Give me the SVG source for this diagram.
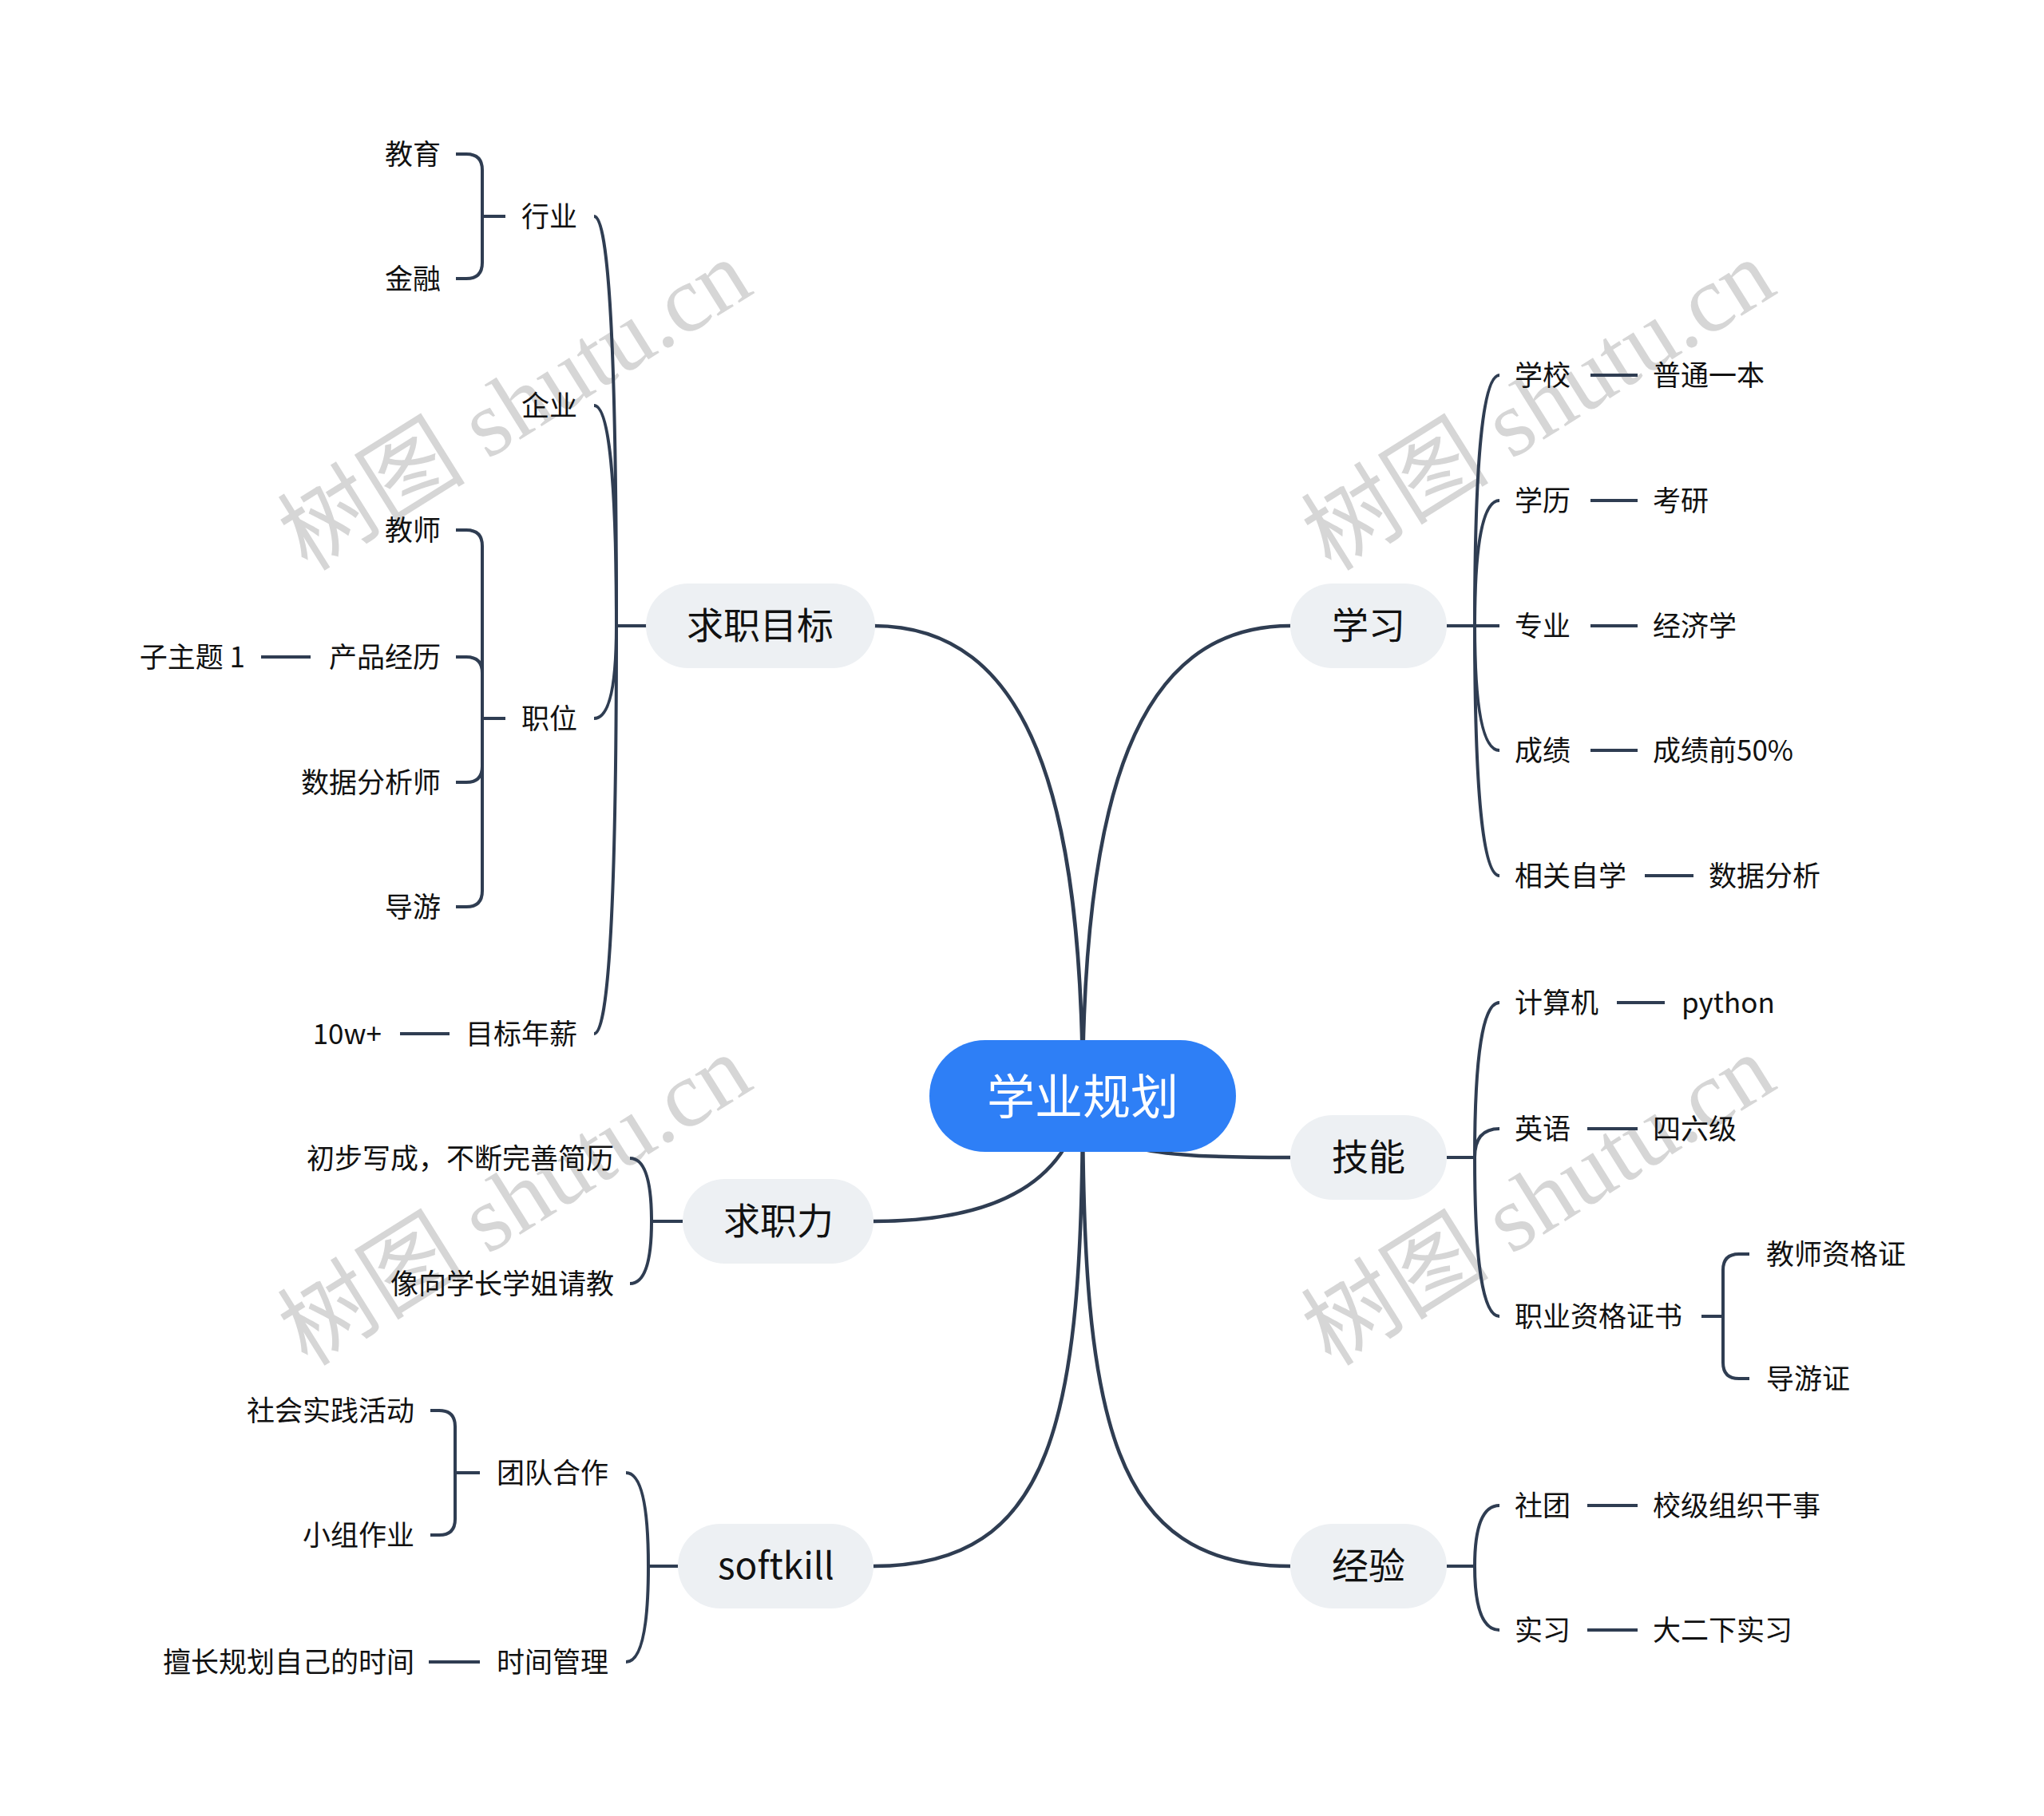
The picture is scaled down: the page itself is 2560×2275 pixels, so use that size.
<svg xmlns="http://www.w3.org/2000/svg" width="2560" height="2275" viewBox="0 0 2560 2275">
<style>
text{font-family:"Noto Sans CJK SC","Noto Sans",sans-serif;fill:#111;dominant-baseline:central}
.t{font-size:35px}
.l{text-anchor:end}
.h1{font-size:46px;text-anchor:middle}
.root{font-size:60px;text-anchor:middle;fill:#fff}
.ln{fill:none;stroke:#2F3D52;stroke-width:4;stroke-linecap:butt}
.main{fill:none;stroke:#2F3D52;stroke-width:4.5}
.pill{fill:#EDF0F3}
.wm{font-family:"Liberation Serif","Noto Sans CJK SC",serif;font-size:118px;fill:#D6D6D6;text-anchor:middle;dominant-baseline:central}
</style>
<rect width="2560" height="2275" fill="#fff"/>
<g id="watermark">
<text class="wm" transform="translate(645,508) rotate(-32)">树图 shutu.cn</text>
<text class="wm" transform="translate(1927,508) rotate(-32)">树图 shutu.cn</text>
<text class="wm" transform="translate(645,1504) rotate(-32)">树图 shutu.cn</text>
<text class="wm" transform="translate(1927,1504) rotate(-32)">树图 shutu.cn</text>
</g>
<g id="connectors">
<path class="main" d="M1094,784 C1290,784 1356,1000 1356,1373"/>
<path class="main" d="M1616,784 C1422,784 1356,1000 1356,1373"/>
<path class="main" d="M1356,1373 C1370,1440 1420,1450 1616,1450"/>
<path class="main" d="M1094,1530 C1250,1530 1340,1480 1356,1373"/>
<path class="main" d="M1094,1962 C1320,1962 1356,1780 1356,1373"/>
<path class="main" d="M1616,1962 C1392,1962 1356,1780 1356,1373"/>
<path class="ln" d="M811,784 H772"/>
<path class="ln" d="M772,784 Q772,271 744,271"/>
<path class="ln" d="M772,784 Q772,508 744,508"/>
<path class="ln" d="M772,784 Q772,900 744,900"/>
<path class="ln" d="M772,784 Q772,1295 744,1295"/>
<path class="ln" d="M633,271 H604"/>
<path class="ln" d="M604,271 V213 Q604,193 584,193 H571"/>
<path class="ln" d="M604,271 V329 Q604,349 584,349 H571"/>
<path class="ln" d="M633,900 H604"/>
<path class="ln" d="M604,900 V684 Q604,664 584,664 H571"/>
<path class="ln" d="M604,900 V843 Q604,823 584,823 H571"/>
<path class="ln" d="M604,900 V960 Q604,980 584,980 H571"/>
<path class="ln" d="M604,900 V1116 Q604,1136 584,1136 H571"/>
<path class="ln" d="M327,823 H389"/>
<path class="ln" d="M501,1295 H563"/>
<path class="ln" d="M855,1530 H816"/>
<path class="ln" d="M816,1530 Q816,1451 789,1451"/>
<path class="ln" d="M816,1530 Q816,1608 789,1608"/>
<path class="ln" d="M849,1962 H812"/>
<path class="ln" d="M812,1962 Q812,1845 784,1845"/>
<path class="ln" d="M812,1962 Q812,2082 784,2082"/>
<path class="ln" d="M601,1845 H570"/>
<path class="ln" d="M570,1845 V1787 Q570,1767 550,1767 H539"/>
<path class="ln" d="M570,1845 V1903 Q570,1923 550,1923 H539"/>
<path class="ln" d="M537,2082 H601"/>
<path class="ln" d="M1812,784 H1878"/>
<path class="ln" d="M1847,784 Q1847,470 1878,470"/>
<path class="ln" d="M1847,784 Q1847,627 1878,627"/>
<path class="ln" d="M1847,784 Q1847,940 1878,940"/>
<path class="ln" d="M1847,784 Q1847,1097 1878,1097"/>
<path class="ln" d="M1992,470 H2051"/>
<path class="ln" d="M1992,627 H2051"/>
<path class="ln" d="M1992,784 H2051"/>
<path class="ln" d="M1992,940 H2051"/>
<path class="ln" d="M2060,1097 H2121"/>
<path class="ln" d="M1812,1450 H1847"/>
<path class="ln" d="M1847,1450 Q1847,1256 1878,1256"/>
<path class="ln" d="M1847,1450 Q1847,1414 1878,1414"/>
<path class="ln" d="M1847,1450 Q1847,1649 1878,1649"/>
<path class="ln" d="M2025,1256 H2085"/>
<path class="ln" d="M1988,1414 H2051"/>
<path class="ln" d="M2131,1649 H2158"/>
<path class="ln" d="M2158,1649 V1591 Q2158,1571 2178,1571 H2191"/>
<path class="ln" d="M2158,1649 V1707 Q2158,1727 2178,1727 H2191"/>
<path class="ln" d="M1812,1962 H1847"/>
<path class="ln" d="M1847,1962 Q1847,1886 1878,1886"/>
<path class="ln" d="M1847,1962 Q1847,2042 1878,2042"/>
<path class="ln" d="M1988,1886 H2051"/>
<path class="ln" d="M1988,2042 H2051"/>
</g>
<g id="root"><rect x="1164" y="1303" width="384" height="140" rx="70" fill="#2E7FF6"/><text class="root" x="1356" y="1369">学业规划</text></g>
<g id="n-qzmb"><rect class="pill" x="809" y="731" width="287" height="106" rx="53"/><text class="h1" x="952" y="780">求职目标</text></g>
<g id="n-xx"><rect class="pill" x="1616" y="731" width="196" height="106" rx="53"/><text class="h1" x="1714" y="780">学习</text></g>
<g id="n-jn"><rect class="pill" x="1616" y="1397" width="196" height="106" rx="53"/><text class="h1" x="1714" y="1446">技能</text></g>
<g id="n-jy"><rect class="pill" x="1616" y="1909" width="196" height="106" rx="53"/><text class="h1" x="1714" y="1958">经验</text></g>
<g id="n-qzl"><rect class="pill" x="855" y="1477" width="239" height="106" rx="53"/><text class="h1" x="975" y="1526">求职力</text></g>
<g id="n-sk"><rect class="pill" x="849" y="1909" width="245" height="106" rx="53"/><text class="h1" x="972" y="1958">softkill</text></g>
<g id="n-hy"><text class="t l" x="723" y="268">行业</text></g>
<g id="n-jiaoyu"><text class="t l" x="552" y="190">教育</text></g>
<g id="n-jinrong"><text class="t l" x="552" y="346">金融</text></g>
<g id="n-qy"><text class="t l" x="723" y="505">企业</text></g>
<g id="n-zw"><text class="t l" x="723" y="897">职位</text></g>
<g id="n-js"><text class="t l" x="552" y="661">教师</text></g>
<g id="n-cpjl"><text class="t l" x="552" y="820">产品经历</text></g>
<g id="n-zzt"><text class="t l" x="307" y="820">子主题 1</text></g>
<g id="n-sjfxs"><text class="t l" x="552" y="977">数据分析师</text></g>
<g id="n-dy"><text class="t l" x="552" y="1133">导游</text></g>
<g id="n-mbnx"><text class="t l" x="723" y="1292">目标年薪</text></g>
<g id="n-10w"><text class="t l" x="478" y="1292">10w+</text></g>
<g id="n-cbxc"><text class="t l" x="769" y="1448">初步写成，不断完善简历</text></g>
<g id="n-xxxz"><text class="t l" x="769" y="1605">像向学长学姐请教</text></g>
<g id="n-tdhz"><text class="t l" x="762" y="1842">团队合作</text></g>
<g id="n-shsj"><text class="t l" x="519" y="1764">社会实践活动</text></g>
<g id="n-xzzy"><text class="t l" x="519" y="1920">小组作业</text></g>
<g id="n-sjgl"><text class="t l" x="762" y="2079">时间管理</text></g>
<g id="n-sc"><text class="t l" x="519" y="2079">擅长规划自己的时间</text></g>
<g id="n-xuexiao"><text class="t" x="1897" y="467">学校</text></g>
<g id="n-ptyb"><text class="t" x="2070" y="467">普通一本</text></g>
<g id="n-xueli"><text class="t" x="1897" y="624">学历</text></g>
<g id="n-ky"><text class="t" x="2070" y="624">考研</text></g>
<g id="n-zy"><text class="t" x="1897" y="781">专业</text></g>
<g id="n-jjx"><text class="t" x="2070" y="781">经济学</text></g>
<g id="n-cj"><text class="t" x="1897" y="937">成绩</text></g>
<g id="n-cjq"><text class="t" x="2070" y="937">成绩前50%</text></g>
<g id="n-xgzx"><text class="t" x="1897" y="1094">相关自学</text></g>
<g id="n-sjfx"><text class="t" x="2140" y="1094">数据分析</text></g>
<g id="n-jsj"><text class="t" x="1897" y="1253">计算机</text></g>
<g id="n-py"><text class="t" x="2106" y="1253">python</text></g>
<g id="n-yy"><text class="t" x="1897" y="1411">英语</text></g>
<g id="n-slj"><text class="t" x="2070" y="1411">四六级</text></g>
<g id="n-zyzg"><text class="t" x="1897" y="1646">职业资格证书</text></g>
<g id="n-jszg"><text class="t" x="2212" y="1568">教师资格证</text></g>
<g id="n-dyz"><text class="t" x="2212" y="1724">导游证</text></g>
<g id="n-st"><text class="t" x="1897" y="1883">社团</text></g>
<g id="n-xjzz"><text class="t" x="2070" y="1883">校级组织干事</text></g>
<g id="n-sx"><text class="t" x="1897" y="2039">实习</text></g>
<g id="n-dex"><text class="t" x="2070" y="2039">大二下实习</text></g>
</svg>
